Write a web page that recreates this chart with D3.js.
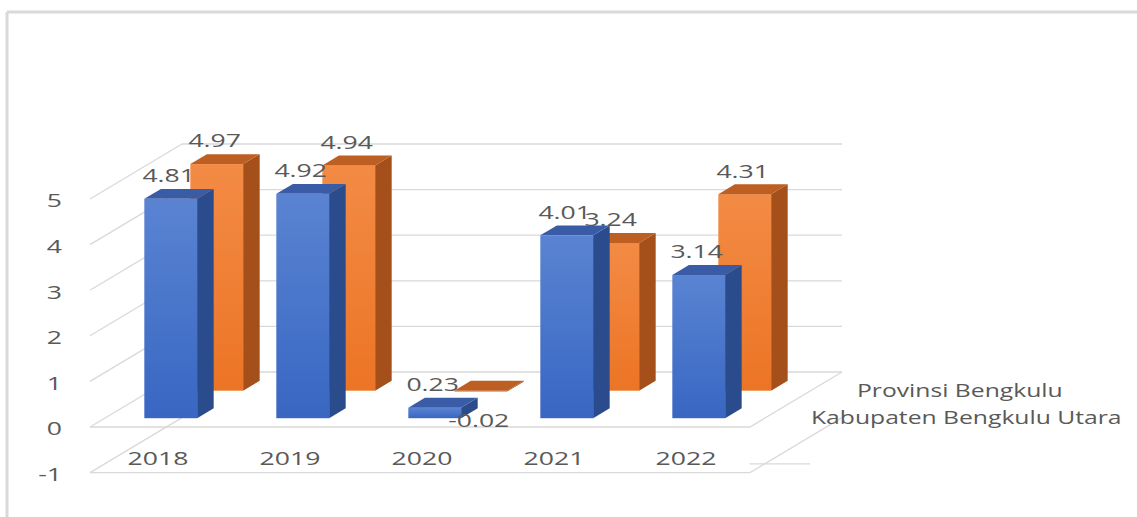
<!DOCTYPE html>
<html>
<head>
<meta charset="utf-8">
<script src="https://cdn.jsdelivr.net/npm/d3@7"></script>
<style>
  html, body { margin: 0; padding: 0; background: #ffffff; }
  svg { display: block; }
  text { font-family: "Open Sans", "DejaVu Sans", sans-serif; fill: #595959; }
</style>
</head>
<body>
<svg id="chart" width="1137" height="517"></svg>
<script>
// ---- data ----
const categories = ["2018", "2019", "2020", "2021", "2022"];
const seriesNames = ["Kabupaten Bengkulu Utara", "Provinsi Bengkulu"]; // front row, back row
const kabupatenValues = [4.81, 4.92, 0.23, 4.01, 3.14];
const provinsiValues = [4.97, 4.94, -0.02, 3.24, 4.31];
const yTicks = [-1, 0, 1, 2, 3, 4, 5];

const seriesValues = [kabupatenValues, provinsiValues];
const seriesColors = [
  { top: "#3a5ca6", side: "#2b4c8c", light: "#5a84d2", dark: "#3866c2" },
  { top: "#bd5e22", side: "#a54f1b", light: "#f38b45", dark: "#ec7425" }
];

const svg = d3.select("#chart");
const defs = svg.append("defs");
seriesColors.forEach((c, i) => {
  const g = defs.append("linearGradient").attr("id", "grad" + i)
    .attr("x1", 0).attr("y1", 0).attr("x2", 0).attr("y2", 1);
  g.append("stop").attr("offset", "0%").attr("stop-color", c.light);
  g.append("stop").attr("offset", "100%").attr("stop-color", c.dark);
});

// chart area border (top / left)
svg.append("line").attr("x1", 7).attr("y1", 12).attr("x2", 1137).attr("y2", 12)
  .attr("stroke", "#d9d9d9").attr("stroke-width", 3);
svg.append("line").attr("x1", 7).attr("y1", 12).attr("x2", 7).attr("y2", 517)
  .attr("stroke", "#d9d9d9").attr("stroke-width", 3);

// ---- scales ----
const x = d3.scaleBand().domain(categories).range([90, 750])
  .paddingInner(0.6).paddingOuter(0.3);
const y = d3.scaleLinear().domain([-1, 5]).range([472.6, 199]);
const z = d3.scaleBand().domain(seriesNames).range([0, 1])
  .paddingInner(0.64).paddingOuter(0.32);
const DX = 92, DY = -55;
const P = (px, v, pz) => [px + pz * DX, y(v) + pz * DY];
const pts = arr => arr.map(p => p.join(",")).join(" ");

const grid = svg.append("g").attr("stroke", "#d9d9d9").attr("stroke-width", 1.3).attr("fill", "none");
const xL = 90, xR = 750;
// left wall diagonals
yTicks.forEach(v => {
  const a = P(xL, v, 0), b = P(xL, v, 1);
  grid.append("line").attr("x1", a[0]).attr("y1", a[1]).attr("x2", b[0]).attr("y2", b[1]);
});
// back wall horizontals
yTicks.filter(v => v >= 0).forEach(v => {
  const a = P(xL, v, 1), b = P(xR, v, 1);
  grid.append("line").attr("x1", a[0]).attr("y1", a[1]).attr("x2", b[0]).attr("y2", b[1]);
});
// floor front edges and right edges at 0 and -1
[0, -1].forEach(v => {
  const a = P(xL, v, 0), b = P(xR, v, 0), c = P(xR, v, 1);
  grid.append("polyline").attr("points", pts([a, b, c]));
});
// series axis tick
{
  const a = P(xR, -1, 0.16);
  grid.append("line").attr("x1", a[0] - 15).attr("y1", a[1]).attr("x2", 810).attr("y2", a[1]);
}

// ---- bars (back row first) ----
const bars = svg.append("g");
[1, 0].forEach(si => {
  const name = seriesNames[si];
  const z0 = z(name), z1 = z(name) + z.bandwidth();
  const col = seriesColors[si];
  seriesValues[si].forEach((v, ci) => {
    const x0 = x(categories[ci]), x1 = x0 + x.bandwidth();
    const top = Math.max(v, 0), bot = Math.min(v, 0);
    const g = bars.append("g");
    // side face
    g.append("polygon").attr("points", pts([P(x1, top, z0), P(x1, top, z1), P(x1, bot, z1), P(x1, bot, z0)]))
      .attr("fill", col.side);
    // front face
    const f0 = P(x0, top, z0), f1 = P(x1, bot, z0);
    g.append("rect").attr("x", f0[0]).attr("y", f0[1])
      .attr("width", f1[0] - f0[0]).attr("height", Math.max(f1[1] - f0[1], 0.5))
      .attr("fill", "url(#grad" + si + ")");
    // top face
    g.append("polygon").attr("points", pts([P(x0, top, z0), P(x1, top, z0), P(x1, top, z1), P(x0, top, z1)]))
      .attr("fill", col.top);
  });
});

// ---- text ----
function addText(parent, tx, ty, str, anchor, sx) {
  return parent.append("text")
    .attr("transform", `translate(${tx},${ty}) scale(${sx || 1.4},1)`)
    .attr("text-anchor", anchor)
    .attr("dominant-baseline", "central")
    .style("font-size", "19px")
    .text(str);
}
const labels = svg.append("g");
[1, 0].forEach(si => {
  const name = seriesNames[si];
  const z0 = z(name);
  seriesValues[si].forEach((v, ci) => {
    const cx = x(categories[ci]) + x.bandwidth() / 2;
    const p = P(cx, Math.max(v, 0), z0);
    const ly = v >= 0 ? p[1] - 24 : p[1] + 29;
    addText(labels, p[0] - 2, ly, v.toFixed(2), "middle");
  });
});

// y axis labels
yTicks.forEach(v => addText(svg, 62, y(v) + 1, String(v), "end"));
// category labels
categories.forEach(c => addText(svg, x(c) + x.bandwidth() / 2 + 2, 458, c, "middle"));
// series (depth) labels
seriesNames.forEach(n => {
  const zc = z(n) + z.bandwidth() / 2;
  addText(svg, 788 + zc * DX, 429 - zc * 55 + 1, n, "start", 1.3);
});
</script>
</body>
</html>
